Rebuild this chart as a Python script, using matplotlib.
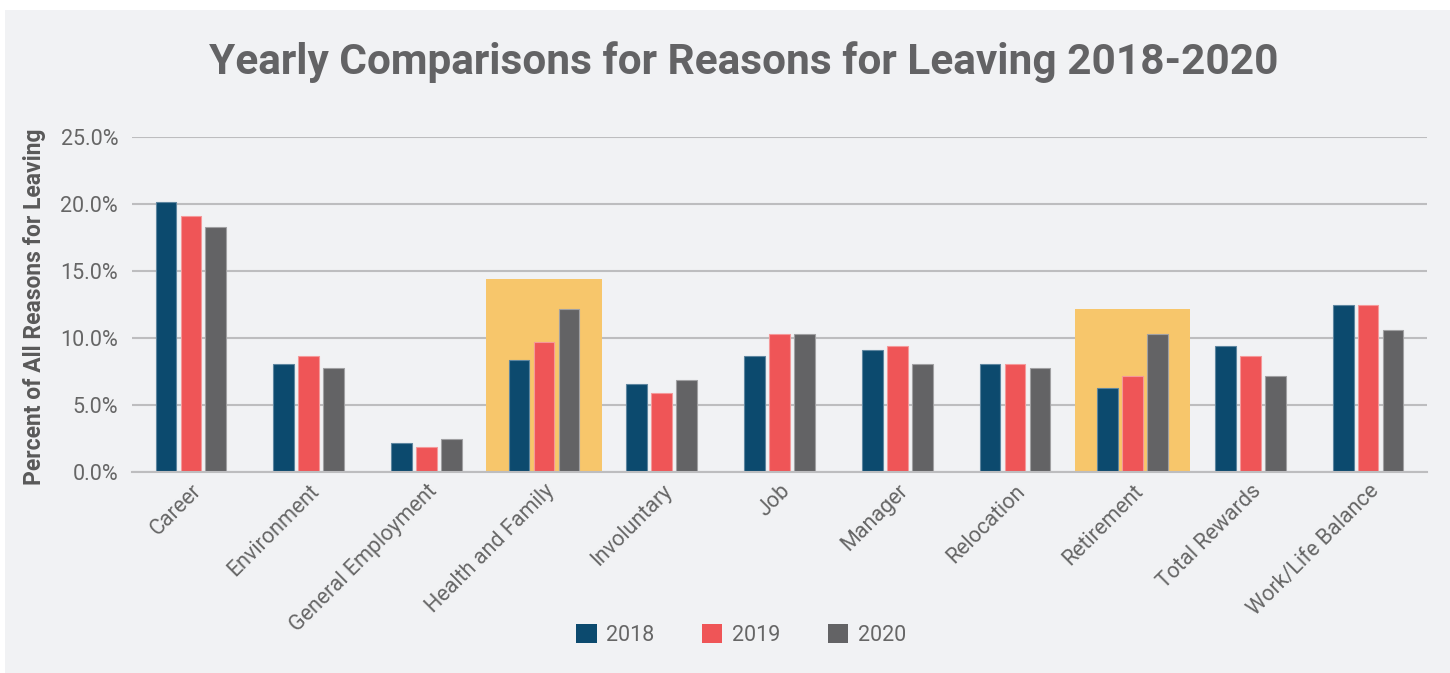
import matplotlib
matplotlib.use("Agg")
import matplotlib.pyplot as plt
from matplotlib.patches import Rectangle, Patch
from matplotlib.ticker import FuncFormatter
import numpy as np

categories = ["Career", "Environment", "General Employment", "Health and Family",
              "Involuntary", "Job", "Manager", "Relocation", "Retirement",
              "Total Rewards", "Work/Life Balance"]
years = ["2018", "2019", "2020"]
v2018 = [20.1, 8.1, 2.2, 8.4, 6.6, 8.7, 9.1, 8.1, 6.3, 9.4, 12.5]
v2019 = [19.1, 8.7, 1.9, 9.7, 5.9, 10.3, 9.4, 8.1, 7.2, 8.7, 12.5]
v2020 = [18.3, 7.8, 2.5, 12.2, 6.9, 10.3, 8.1, 7.8, 10.3, 7.2, 10.6]
highlight_categories = ["Health and Family", "Retirement"]
highlight_heights = [14.4, 12.2]
yticks = [0, 5, 10, 15, 20, 25]

colors = ["#0C4A6E", "#EF5557", "#636365"]
edge_colors = ["#5E86A0", "#F5999A", "#A0A0A2"]
hl_color = "#F7C66B"
bg = "#F1F2F4"
text_color = "#666666"

plt.rcParams['font.family'] = ['Roboto', 'DejaVu Sans']

fig = plt.figure(figsize=(14.5, 6.73), dpi=100, facecolor="white")
fig.patches.append(Rectangle((5 / 1450, 0), 1 - 5 / 1450, 1 - 10 / 673,
                             transform=fig.transFigure, facecolor=bg,
                             edgecolor="none", zorder=-10))

ax = fig.add_axes([132 / 1450, 1 - 472.3 / 673, (1427 - 132) / 1450, (472.3 - 136.7) / 673])
ax.set_facecolor(bg)
ax.patch.set_alpha(0)

x = np.arange(len(categories))
step = 0.212
width = 0.176
series = [v2018, v2019, v2020]

for cat, h in zip(highlight_categories, highlight_heights):
    i = categories.index(cat)
    ax.add_patch(Rectangle((i - 0.49, 0), 0.98, h, facecolor=hl_color,
                           edgecolor="none", zorder=1))

for k, vals in enumerate(series):
    ax.bar(x + (k - 1) * step, vals, width=width, color=colors[k],
           edgecolor=edge_colors[k], linewidth=0.8, zorder=3, label=years[k])

ax.set_xlim(-0.5, len(categories) - 0.5)
ax.set_ylim(0, 25)
ax.set_yticks(yticks)
ax.yaxis.set_major_formatter(FuncFormatter(lambda v, p: f"{v:.1f}%"))
ax.grid(axis="y", color="#BDBDBF", linewidth=1.5, zorder=0)
ax.set_axisbelow(True)
for s in ["top", "right", "left"]:
    ax.spines[s].set_visible(False)
ax.spines["bottom"].set_color("#BDBDBF")
ax.spines["bottom"].set_linewidth(1.5)
ax.spines["bottom"].set_zorder(4)
ax.tick_params(axis="both", length=0, colors=text_color)
ax.tick_params(axis="y", labelsize=15.5, pad=10)
ax.tick_params(axis="x", labelsize=15.5, pad=6)
ax.set_xticks(x)
ax.set_xticklabels(categories, rotation=45, ha="right", rotation_mode="anchor",
                   color=text_color)
for lab in ax.get_yticklabels():
    lab.set_color(text_color)

fig.text(35 / 1450, 1 - 307 / 673, "Percent of All Reasons for Leaving",
         rotation=90, ha="center", va="center", fontsize=16.5,
         fontweight="bold", color="#595959")

fig.text(744 / 1450, 1 - 62 / 673, "Yearly Comparisons for Reasons for Leaving 2018-2020",
         ha="center", va="center", fontsize=30.5, fontweight="bold", color="#636365")

handles = [Patch(facecolor=c, edgecolor="none") for c in colors]
fig.legend(handles, years, loc="center", bbox_to_anchor=(741 / 1450, 1 - 635 / 673),
           ncol=3, frameon=False, fontsize=15.5, handlelength=0.95, handleheight=0.95,
           handletextpad=0.45, columnspacing=2.2, labelcolor=text_color)

fig.savefig("out.png", dpi=100, facecolor="white")
